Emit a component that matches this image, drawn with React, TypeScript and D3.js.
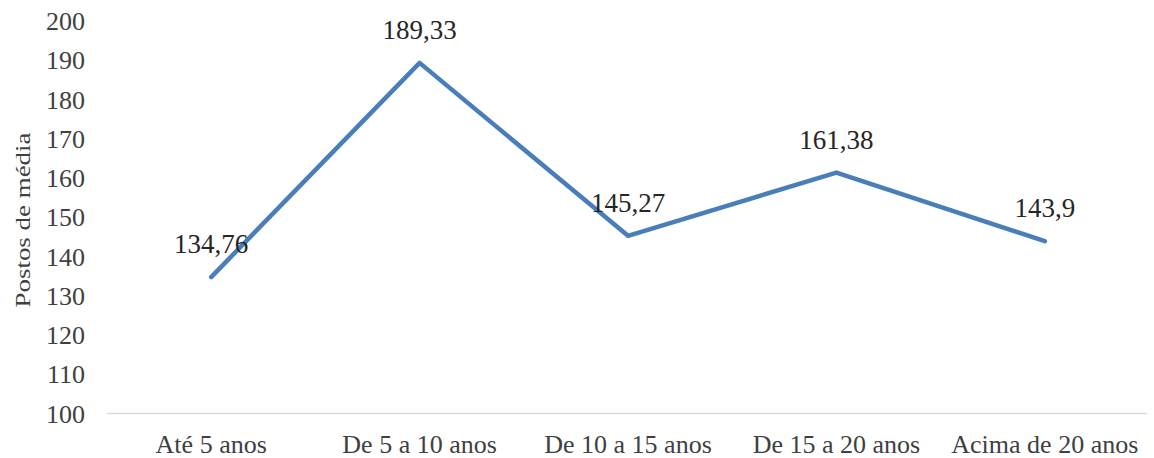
import React from "react";
import * as d3 from "d3";

const categories = ["Até 5 anos", "De 5 a 10 anos", "De 10 a 15 anos", "De 15 a 20 anos", "Acima de 20 anos"];
const values = [134.76, 189.33, 145.27, 161.38, 143.9];
const valueLabels = ["134,76", "189,33", "145,27", "161,38", "143,9"];
const yTicks = [100, 110, 120, 130, 140, 150, 160, 170, 180, 190, 200];
const yTitle = "Postos de média";

const W = 1154;
const H = 458;
const serif: React.CSSProperties = { fontFamily: '"Liberation Serif", "DejaVu Serif", serif' };

export default function App() {
  const x = d3.scaleBand<string>().domain(categories).range([107, 1149]);
  const y = d3.scaleLinear().domain([100, 200]).range([413.5, 21]);
  const cx = (c: string) => (x(c) ?? 0) + x.bandwidth() / 2;

  const line = d3
    .line<number>()
    .x((_, i) => cx(categories[i]))
    .y((d) => y(d));

  return (
    <svg
      width={W}
      height={H}
      style={{ position: "absolute", left: 0, top: 0, background: "#fff" }}
    >
      <rect width={W} height={H} fill="#fff" />
      {/* y-axis tick labels */}
      {yTicks.map((t) => (
        <text key={t} x={85} y={y(t) + 9} textAnchor="end" fontSize={26} fill="#404040" style={serif}>
          {t}
        </text>
      ))}
      {/* axis title */}
      <text
        transform={`translate(30,220) rotate(-90)`}
        textAnchor="middle"
        fontSize={22}
        fill="#404040"
        textLength={175}
        lengthAdjust="spacingAndGlyphs"
        style={serif}
      >
        {yTitle}
      </text>
      {/* category axis line */}
      <line x1={107} x2={1147} y1={y(100)} y2={y(100)} stroke="#d9d9d9" strokeWidth={1.5} />
      {/* category labels */}
      {categories.map((c) => (
        <text key={c} x={cx(c)} y={453} textAnchor="middle" fontSize={26} fill="#404040" style={serif}>
          {c}
        </text>
      ))}
      {/* series line */}
      <path
        d={line(values) ?? ""}
        fill="none"
        stroke="#4A7EBB"
        strokeWidth={4.5}
        strokeLinejoin="round"
        strokeLinecap="round"
      />
      {/* data labels */}
      {values.map((v, i) => (
        <text
          key={i}
          x={cx(categories[i])}
          y={y(v) - 24}
          textAnchor="middle"
          fontSize={27}
          fill="#262626"
          style={serif}
        >
          {valueLabels[i]}
        </text>
      ))}
    </svg>
  );
}
